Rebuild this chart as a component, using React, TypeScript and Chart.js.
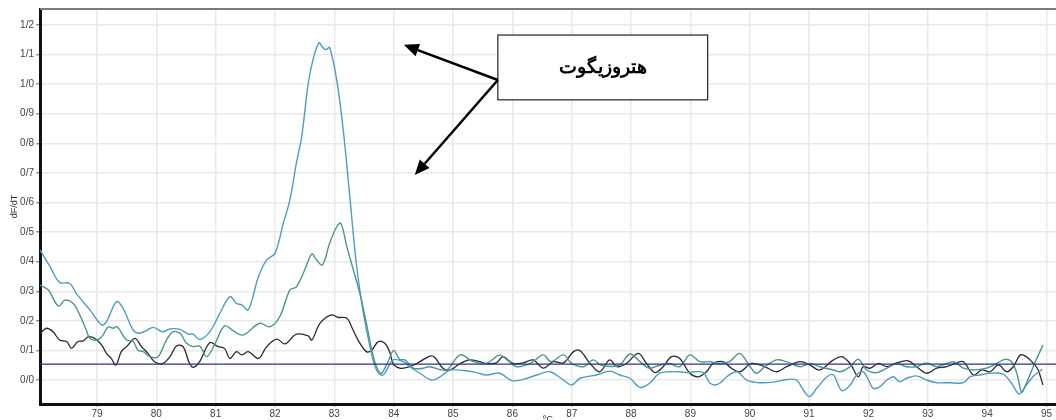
import React, { useEffect, useRef } from "react";
import { Chart, registerables } from "chart.js";
Chart.register(...registerables);

// Axis ranges and ticks
const xMin = 78.04;
const xMax = 95.16;
const yMin = -0.081;
const yMax = 1.254;
const xTicks = [79, 80, 81, 82, 83, 84, 85, 86, 87, 88, 89, 90, 91, 92, 93, 94, 95];
const yTicks = [0, 0.1, 0.2, 0.3, 0.4, 0.5, 0.6, 0.7, 0.8, 0.9, 1.0, 1.1, 1.2];
const thresholdValue = 0.054;
const yTitle = "dF/dT";
const xTitle = "ºC";
const annotationText = "هتروزیگوت";

// Series 1 (light blue, tall peak)
const blueT = [78.04, 78.21, 78.37, 78.54, 78.65, 78.88, 79.08, 79.16, 79.33, 79.44, 79.61, 79.72, 79.83, 79.95, 80.11, 80.23, 80.40, 80.54, 80.62, 80.73, 80.90, 81.07, 81.24, 81.35, 81.44, 81.55, 81.72, 81.86, 82.00, 82.14, 82.25, 82.36, 82.45, 82.56, 82.64, 82.74, 82.80, 82.86, 82.92, 83.04, 83.15, 83.26, 83.37, 83.49, 83.60, 83.71, 83.82, 83.99, 84.16, 84.27, 84.44, 84.64, 84.78, 84.95, 85.17, 85.40, 85.56, 85.79, 85.99, 86.18, 86.41, 86.63, 86.86, 87.00, 87.14, 87.42, 87.64, 87.81, 87.98, 88.15, 88.31, 88.48, 88.65, 88.82, 88.96, 89.07, 89.22, 89.33, 89.47, 89.61, 89.78, 89.95, 90.17, 90.40, 90.62, 90.79, 90.87, 91.00, 91.13, 91.30, 91.41, 91.55, 91.69, 91.80, 91.91, 92.00, 92.08, 92.19, 92.31, 92.42, 92.53, 92.64, 92.81, 92.98, 93.15, 93.37, 93.60, 93.71, 93.88, 94.05, 94.27, 94.41, 94.54, 94.66, 94.80, 94.93];
const blueV = [0.44, 0.383, 0.33, 0.327, 0.293, 0.237, 0.186, 0.197, 0.265, 0.242, 0.169, 0.158, 0.167, 0.178, 0.163, 0.173, 0.171, 0.155, 0.155, 0.137, 0.163, 0.225, 0.282, 0.259, 0.254, 0.237, 0.349, 0.406, 0.428, 0.53, 0.608, 0.733, 0.823, 1.003, 1.082, 1.14, 1.125, 1.117, 1.124, 1.014, 0.845, 0.62, 0.394, 0.225, 0.113, 0.034, 0.017, 0.068, 0.062, 0.045, 0.023, 0.0, 0.011, 0.034, 0.032, 0.025, 0.017, 0.023, -0.002, 0.002, 0.017, 0.028, 0.0, -0.017, 0.006, 0.017, 0.03, 0.017, 0.006, -0.025, -0.011, 0.023, 0.028, 0.028, 0.025, 0.028, 0.025, -0.011, -0.014, 0.011, 0.028, 0.0, -0.009, -0.007, 0.002, 0.0, -0.023, -0.056, -0.028, 0.011, 0.017, -0.036, -0.017, 0.017, 0.028, 0.0, -0.028, -0.023, 0.0, 0.011, -0.006, 0.006, 0.014, 0.0, -0.009, -0.009, -0.009, 0.011, 0.017, 0.023, 0.02, -0.011, -0.047, -0.017, 0.017, 0.036];

// Series 2 (teal, medium peak)
const tealT = [78.04, 78.18, 78.35, 78.46, 78.60, 78.71, 78.82, 78.88, 78.99, 79.08, 79.19, 79.27, 79.34, 79.50, 79.61, 79.69, 79.78, 79.89, 80.03, 80.17, 80.28, 80.40, 80.51, 80.62, 80.73, 80.85, 80.99, 81.15, 81.30, 81.46, 81.74, 81.91, 82.08, 82.25, 82.36, 82.50, 82.62, 82.70, 82.80, 82.92, 83.04, 83.11, 83.21, 83.32, 83.43, 83.54, 83.63, 83.71, 83.79, 83.90, 84.00, 84.10, 84.19, 84.33, 84.50, 84.60, 84.89, 85.12, 85.34, 85.56, 85.79, 85.90, 86.07, 86.30, 86.52, 86.65, 86.86, 87.00, 87.20, 87.36, 87.50, 87.80, 87.98, 88.15, 88.31, 88.48, 88.65, 88.82, 88.99, 89.16, 89.33, 89.50, 89.66, 89.83, 89.97, 90.11, 90.25, 90.45, 90.62, 90.85, 91.01, 91.18, 91.41, 91.53, 91.69, 91.83, 91.97, 92.14, 92.31, 92.48, 92.64, 92.81, 92.98, 93.15, 93.43, 93.60, 93.77, 93.99, 94.16, 94.30, 94.41, 94.50, 94.58, 94.66, 94.80, 94.94];
const tealV = [0.321, 0.304, 0.25, 0.27, 0.259, 0.22, 0.169, 0.141, 0.135, 0.146, 0.18, 0.175, 0.18, 0.135, 0.13, 0.101, 0.096, 0.079, 0.079, 0.135, 0.163, 0.158, 0.124, 0.113, 0.115, 0.079, 0.124, 0.183, 0.166, 0.152, 0.192, 0.18, 0.214, 0.304, 0.315, 0.372, 0.426, 0.406, 0.389, 0.462, 0.518, 0.53, 0.451, 0.372, 0.293, 0.192, 0.101, 0.045, 0.023, 0.06, 0.1, 0.07, 0.068, 0.04, 0.04, 0.045, 0.034, 0.085, 0.062, 0.056, 0.085, 0.07, 0.045, 0.056, 0.085, 0.062, 0.085, 0.056, 0.045, 0.068, 0.05, 0.05, 0.088, 0.062, 0.04, 0.05, 0.056, 0.045, 0.085, 0.062, 0.062, 0.056, 0.062, 0.09, 0.056, 0.023, 0.045, 0.068, 0.062, 0.045, 0.056, 0.045, 0.034, 0.028, 0.045, 0.07, 0.034, 0.025, 0.04, 0.056, 0.045, 0.045, 0.058, 0.045, 0.062, 0.04, 0.034, 0.04, 0.056, 0.07, 0.062, 0.023, -0.04, -0.011, 0.056, 0.118];

// Series 3 (black, small peak)
const blackT = [78.04, 78.15, 78.26, 78.37, 78.49, 78.57, 78.68, 78.77, 78.85, 78.96, 79.08, 79.16, 79.24, 79.32, 79.41, 79.50, 79.64, 79.75, 79.86, 79.97, 80.11, 80.23, 80.34, 80.45, 80.56, 80.63, 80.73, 80.90, 81.04, 81.15, 81.24, 81.35, 81.44, 81.55, 81.72, 81.86, 82.03, 82.17, 82.36, 82.56, 82.62, 82.76, 82.95, 83.06, 83.21, 83.29, 83.40, 83.54, 83.63, 83.74, 83.85, 83.93, 83.99, 84.10, 84.27, 84.44, 84.61, 84.69, 84.83, 84.95, 85.12, 85.28, 85.45, 85.56, 85.73, 85.84, 86.01, 86.18, 86.35, 86.52, 86.69, 86.86, 87.03, 87.14, 87.31, 87.47, 87.64, 87.76, 87.92, 88.12, 88.26, 88.40, 88.54, 88.68, 88.82, 88.99, 89.13, 89.27, 89.38, 89.55, 89.69, 89.83, 90.03, 90.23, 90.45, 90.62, 90.85, 91.01, 91.18, 91.41, 91.55, 91.69, 91.83, 91.91, 92.03, 92.17, 92.31, 92.45, 92.67, 92.81, 92.98, 93.15, 93.32, 93.46, 93.60, 93.77, 93.91, 94.05, 94.19, 94.33, 94.44, 94.56, 94.66, 94.78, 94.86, 94.94];
const blackV = [0.158, 0.175, 0.163, 0.135, 0.13, 0.107, 0.13, 0.132, 0.146, 0.141, 0.118, 0.09, 0.073, 0.051, 0.096, 0.113, 0.141, 0.113, 0.09, 0.062, 0.056, 0.079, 0.115, 0.113, 0.056, 0.043, 0.062, 0.126, 0.113, 0.107, 0.073, 0.096, 0.085, 0.096, 0.073, 0.113, 0.138, 0.122, 0.155, 0.149, 0.135, 0.192, 0.22, 0.212, 0.209, 0.18, 0.135, 0.096, 0.101, 0.13, 0.124, 0.096, 0.056, 0.04, 0.045, 0.062, 0.081, 0.077, 0.04, 0.034, 0.056, 0.068, 0.062, 0.056, 0.058, 0.079, 0.056, 0.058, 0.068, 0.04, 0.062, 0.058, 0.096, 0.099, 0.056, 0.028, 0.068, 0.045, 0.056, 0.09, 0.056, 0.025, 0.045, 0.079, 0.073, 0.023, 0.011, 0.028, 0.056, 0.062, 0.04, 0.028, 0.056, 0.047, 0.028, 0.045, 0.062, 0.051, 0.034, 0.068, 0.079, 0.056, 0.011, 0.045, 0.04, 0.056, 0.045, 0.056, 0.065, 0.045, 0.023, 0.04, 0.045, 0.056, 0.062, 0.017, 0.034, 0.028, 0.051, 0.028, 0.045, 0.085, 0.079, 0.056, 0.034, -0.017];

// Annotation (data units): box corners, arrow origin and two arrow tips
const boxX = [85.755, 89.29];
const boxY = [1.166, 0.947];
const arrowFrom = [85.755, 1.014];
const arrowTips = [[84.17, 1.133], [84.355, 0.693]];

const fmt = (v: number) => v.toFixed(1).replace(".", "/");
const pts = (t: number[], v: number[]) => t.map((x, i) => ({ x, y: v[i] }));

const overlay = {
  id: "overlay",
  afterDraw(chart: any) {
    const { ctx, chartArea, scales } = chart;
    const xs = scales.x, ys = scales.y;
    ctx.save();
    // top border
    ctx.strokeStyle = "#7a7a7a";
    ctx.lineWidth = 2;
    ctx.beginPath();
    ctx.moveTo(chartArea.left, chartArea.top);
    ctx.lineTo(chart.width, chartArea.top);
    ctx.stroke();
    // axis titles
    ctx.fillStyle = "#333";
    ctx.font = "9px 'Liberation Sans', Arial, sans-serif";
    ctx.textAlign = "center";
    ctx.textBaseline = "middle";
    ctx.save();
    ctx.translate(15, (chartArea.top + chartArea.bottom) / 2);
    ctx.rotate(-Math.PI / 2);
    ctx.fillText(yTitle, 0, 0);
    ctx.restore();
    ctx.textBaseline = "top";
    ctx.fillText(xTitle, (chartArea.left + chartArea.right) / 2, chartArea.bottom + 11);
    // annotation box
    const bx0 = xs.getPixelForValue(boxX[0]);
    const bx1 = xs.getPixelForValue(boxX[1]);
    const by0 = ys.getPixelForValue(boxY[0]);
    const by1 = ys.getPixelForValue(boxY[1]);
    ctx.fillStyle = "#fff";
    ctx.fillRect(bx0, by0, bx1 - bx0, by1 - by0);
    ctx.strokeStyle = "#222";
    ctx.lineWidth = 1.2;
    ctx.strokeRect(bx0, by0, bx1 - bx0, by1 - by0);
    ctx.fillStyle = "#000";
    ctx.font = "bold 19px 'Liberation Serif', 'Times New Roman', 'DejaVu Serif', serif";
    ctx.textAlign = "center";
    ctx.textBaseline = "middle";
    ctx.direction = "rtl";
    ctx.fillText(annotationText, (bx0 + bx1) / 2, (by0 + by1) / 2 + 1);
    ctx.direction = "ltr";
    // arrows
    const ox = xs.getPixelForValue(arrowFrom[0]);
    const oy = ys.getPixelForValue(arrowFrom[1]);
    arrowTips.forEach(([tx, ty]) => {
      const px = xs.getPixelForValue(tx);
      const py = ys.getPixelForValue(ty);
      const ang = Math.atan2(py - oy, px - ox);
      const hl = 15, hw = 6.5;
      const bxp = px - hl * Math.cos(ang);
      const byp = py - hl * Math.sin(ang);
      ctx.strokeStyle = "#000";
      ctx.lineWidth = 2.5;
      ctx.beginPath();
      ctx.moveTo(ox, oy);
      ctx.lineTo(bxp, byp);
      ctx.stroke();
      ctx.fillStyle = "#000";
      ctx.beginPath();
      ctx.moveTo(px, py);
      ctx.lineTo(bxp + hw * Math.sin(ang), byp - hw * Math.cos(ang));
      ctx.lineTo(bxp - hw * Math.sin(ang), byp + hw * Math.cos(ang));
      ctx.closePath();
      ctx.fill();
    });
    ctx.restore();
  },
};

export default function App() {
  const ref = useRef<HTMLCanvasElement | null>(null);
  useEffect(() => {
    if (!ref.current) return;
    const tickFont = { family: "'Liberation Sans', Arial, sans-serif", size: 10 };
    const chart = new Chart(ref.current, {
      type: "line",
      data: {
        datasets: [
          {
            label: "threshold",
            data: [{ x: xMin, y: thresholdValue }, { x: xMax, y: thresholdValue }],
            borderColor: "#2e2e9a",
            borderWidth: 1.2,
            pointRadius: 0,
            tension: 0,
          },
          {
            label: "teal",
            data: pts(tealT, tealV),
            borderColor: "#4b968c",
            borderWidth: 1.4,
            pointRadius: 0,
            tension: 0.35,
          },
          {
            label: "blue",
            data: pts(blueT, blueV),
            borderColor: "#4f9cc8",
            borderWidth: 1.4,
            pointRadius: 0,
            tension: 0.35,
          },
          {
            label: "black",
            data: pts(blackT, blackV),
            borderColor: "#2b2b2b",
            borderWidth: 1.3,
            pointRadius: 0,
            tension: 0.35,
          },
        ],
      },
      options: {
        animation: false,
        responsive: false,
        events: [],
        layout: { padding: { top: 9, right: 0, left: 0, bottom: 0 } },
        plugins: { legend: { display: false }, tooltip: { enabled: false } },
        scales: {
          x: {
            type: "linear",
            min: xMin,
            max: xMax,
            afterBuildTicks: (s: any) => { s.ticks = xTicks.map((v) => ({ value: v })); },
            afterFit: (s: any) => { s.height = 16; },
            ticks: {
              autoSkip: false,
              maxRotation: 0,
              padding: 1,
              color: "#444",
              font: tickFont,
              callback: (v: any) => String(v),
            },
            grid: { color: "#e9e9e9", lineWidth: 1.5, tickLength: 3, tickColor: "#bbb" },
            border: { color: "#111", width: 3 },
          },
          y: {
            type: "linear",
            min: yMin,
            max: yMax,
            afterBuildTicks: (s: any) => { s.ticks = yTicks.map((v) => ({ value: v })); },
            afterFit: (s: any) => { s.width = 40; },
            ticks: {
              autoSkip: false,
              padding: 2,
              color: "#444",
              font: tickFont,
              callback: (v: any) => fmt(Number(v)),
            },
            grid: { color: "#e9e9e9", lineWidth: 1.5, tickLength: 4, tickColor: "#999" },
            border: { color: "#111", width: 3 },
          },
        },
      },
      plugins: [overlay],
    } as any);
    return () => chart.destroy();
  }, []);
  return (
    <div style={{ position: "absolute", left: 0, top: 0, width: 1056, height: 420, background: "#fff" }}>
      <canvas ref={ref} width={1056} height={420} style={{ display: "block" }} />
    </div>
  );
}
